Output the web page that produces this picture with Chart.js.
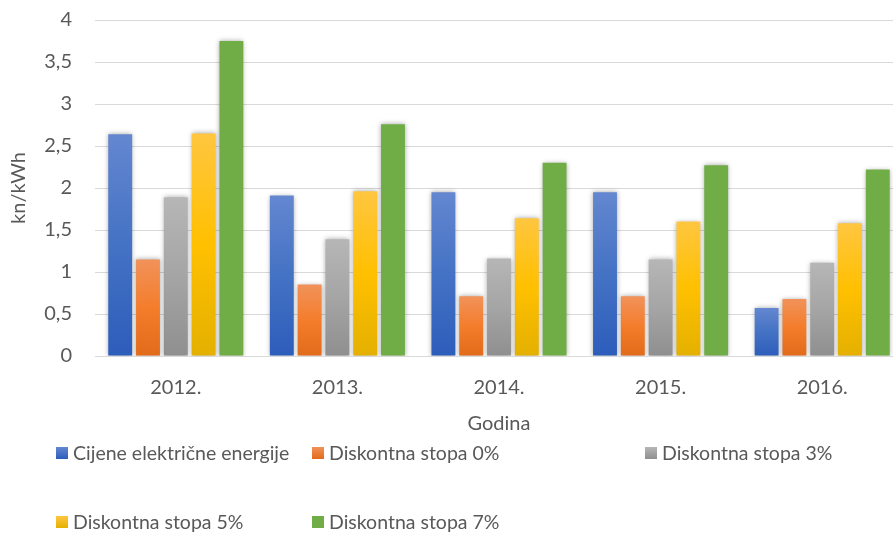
<!DOCTYPE html>
<html>
<head>
  <meta charset="utf-8">
  <title>kn/kWh po godinama</title>
  <script src="https://cdn.jsdelivr.net/npm/chart.js"></script>
  <style>
    body { margin: 0; background: #fff; overflow: hidden; }
    #wrap { width: 903px; height: 548px; margin-top: -15px; position: relative; }
  </style>
</head>
<body>
  <div id="wrap"><canvas id="chart"></canvas></div>

  <script>
    const years = ['2012.', '2013.', '2014.', '2015.', '2016.'];
    const seriesNames = ['Cijene električne energije', 'Diskontna stopa 0%', 'Diskontna stopa 3%', 'Diskontna stopa 5%', 'Diskontna stopa 7%'];
    const cijene = [2.64, 1.91, 1.95, 1.95, 0.57];
    const stopa0 = [1.15, 0.85, 0.71, 0.71, 0.68];
    const stopa3 = [1.89, 1.39, 1.16, 1.15, 1.11];
    const stopa5 = [2.65, 1.96, 1.64, 1.60, 1.58];
    const stopa7 = [3.75, 2.76, 2.30, 2.27, 2.22];

    // top / middle / bottom colours of each bar gradient
    const palette = [
      ['#6487d0', '#4472c4', '#2d5dbb'],
      ['#f1925a', '#f47d2c', '#e26b1b'],
      ['#b6b6b6', '#a5a5a5', '#8f8f8f'],
      ['#ffc640', '#ffc000', '#e4b000'],
      ['#70ad47', '#70ad47', '#70ad47']
    ];

    const textColor = '#595959';
    const font = { family: 'Lato', size: 20 };
    const legendFont = { family: 'Lato', size: 19.5 };

    function gradientFor(i) {
      return function (ctx) {
        const chart = ctx.chart;
        const c = palette[i];
        if (!chart.chartArea || ctx.type !== 'data') return c[1];
        const y = chart.scales.y;
        const top = y.getPixelForValue(ctx.parsed.y);
        const bottom = y.getPixelForValue(0);
        if (bottom - top < 1) return c[1];
        const g = chart.ctx.createLinearGradient(0, top, 0, bottom);
        g.addColorStop(0, c[0]);
        g.addColorStop(0.5, c[1]);
        g.addColorStop(1, c[2]);
        return g;
      };
    }

    const allValues = [cijene, stopa0, stopa3, stopa5, stopa7];
    const datasets = allValues.map((vals, i) => ({
      label: seriesNames[i],
      data: vals,
      backgroundColor: gradientFor(i),
      borderWidth: 0,
      categoryPercentage: 0.86,
      barPercentage: 0.86
    }));

    const barShadow = {
      id: 'barShadow',
      beforeDatasetsDraw(chart) {
        const c = chart.ctx;
        c.save();
        c.shadowColor = 'rgba(0,0,0,0.35)';
        c.shadowBlur = 5;
      },
      afterDatasetsDraw(chart) {
        chart.ctx.restore();
      }
    };

    // legend laid out in a grid like the original (3 columns, 2 rows)
    const gridLegend = {
      id: 'gridLegend',
      afterDraw(chart) {
        const c = chart.ctx;
        const cols = [56, 312, 645];
        const rows = [468, 537];
        c.save();
        c.font = legendFont.size + 'px ' + legendFont.family;
        c.textBaseline = 'middle';
        chart.data.datasets.forEach((ds, i) => {
          const x = cols[i % 3];
          const y = rows[Math.floor(i / 3)];
          const g = c.createLinearGradient(0, y - 6, 0, y + 6);
          g.addColorStop(0, palette[i][0]);
          g.addColorStop(1, palette[i][2]);
          c.fillStyle = g;
          c.fillRect(x, y - 6, 12, 12);
          c.fillStyle = textColor;
          c.fillText(ds.label, x + 17, y + 1);
        });
        c.restore();
      }
    };

    new Chart(document.getElementById('chart'), {
      type: 'bar',
      data: { labels: years, datasets: datasets },
      plugins: [barShadow, gridLegend],
      options: {
        responsive: true,
        maintainAspectRatio: false,
        animation: false,
        layout: { padding: { top: 0, bottom: 97, left: 0, right: 0 } },
        plugins: {
          legend: { display: false },
          tooltip: { enabled: false }
        },
        scales: {
          x: {
            grid: { display: false },
            border: { display: true, color: '#d9d9d9', width: 1 },
            ticks: { color: textColor, font: font, padding: 12 },
            title: {
              display: true,
              text: 'Godina',
              color: textColor,
              font: font,
              padding: { top: 0, bottom: 0 }
            }
          },
          y: {
            min: 0,
            max: 4,
            afterFit(scale) { scale.width = 95; },
            grid: { color: '#d9d9d9', lineWidth: 1, drawTicks: false },
            border: { display: false },
            ticks: {
              stepSize: 0.5,
              color: textColor,
              font: font,
              padding: 23,
              callback: v => String(v).replace('.', ',')
            },
            title: {
              display: true,
              text: 'kn/kWh',
              color: textColor,
              font: font,
              padding: { top: 7, bottom: 0 }
            }
          }
        }
      }
    });
  </script>
</body>
</html>
